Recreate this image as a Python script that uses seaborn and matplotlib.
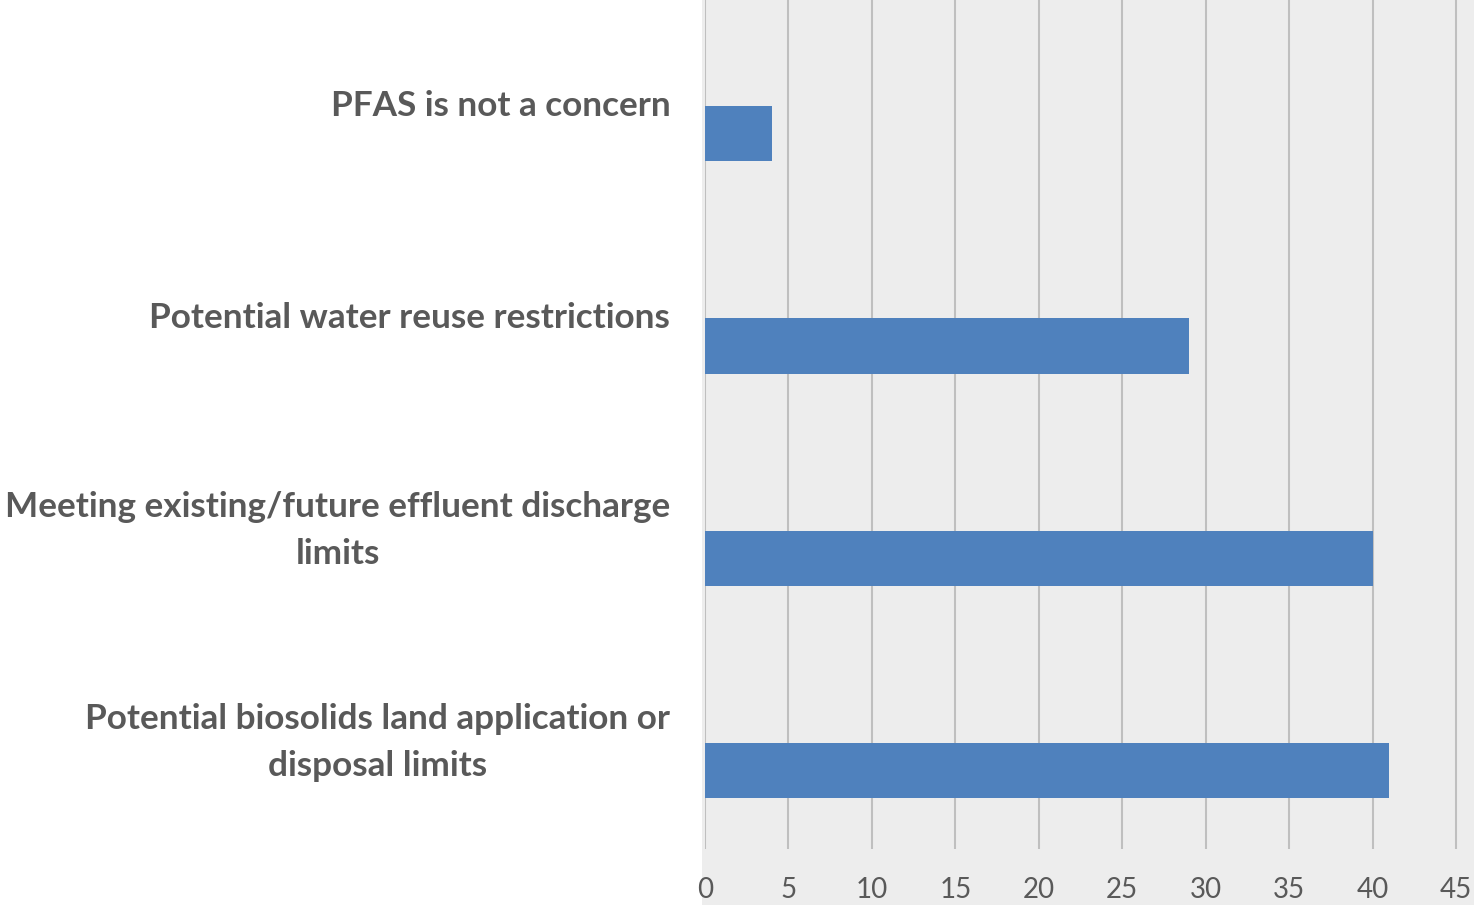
import matplotlib
matplotlib.use("Agg")
import matplotlib.pyplot as plt
import matplotlib.transforms as mtransforms
import seaborn as sns
import pandas as pd
from matplotlib.patches import Rectangle

categories = [
    "PFAS is not a concern",
    "Potential water reuse restrictions",
    "Meeting existing/future effluent discharge\nlimits",
    "Potential biosolids land application or\ndisposal limits",
]
values = [4, 29, 40, 41]
empty_series = [0, 0, 0, 0]
x_ticks = [0, 5, 10, 15, 20, 25, 30, 35, 40, 45]

bar_color = "#4F81BD"
bg = "#EDEDED"
text_color = "#595959"

df = pd.DataFrame({
    "category": categories * 2,
    "value": empty_series + values,
    "series": ["Series 1"] * len(categories) + ["Series 2"] * len(categories),
})

sns.set_theme(style="white")
plt.rcParams["font.family"] = ["Lato", "DejaVu Sans"]

W, H = 1474, 905
fig = plt.figure(figsize=(W / 100, H / 100), dpi=100)
fig.patch.set_facecolor("white")
fig.patches.append(Rectangle((702 / W, 0), 1 - 702 / W, 1, transform=fig.transFigure,
                             facecolor=bg, edgecolor="none", zorder=-10))
ax = fig.add_axes([705 / W, (H - 849) / H, 1 - 705 / W, 849 / H])
ax.set_facecolor(bg)

sns.barplot(data=df, x="value", y="category", hue="series", order=categories,
            hue_order=["Series 1", "Series 2"], palette=[bar_color, bar_color],
            width=0.52, dodge=True, orient="h", ax=ax, legend=False, saturation=1,
            linewidth=0, zorder=3)

ax.set_xlim(0, 46.08)
ax.set_ylim(3.5, -0.5)
ax.set_xticks(x_ticks)
ax.set_xticklabels([str(t) for t in x_ticks])
ax.grid(axis="x", color="#BFBFBF", linewidth=1.5, zorder=0)
ax.grid(axis="y", visible=False)
ax.set_axisbelow(True)
for s in ax.spines.values():
    s.set_visible(False)
ax.set_xlabel("")
ax.set_ylabel("")
ax.tick_params(axis="x", length=0, pad=20, labelsize=20, labelcolor=text_color)
ax.tick_params(axis="y", length=0, pad=25, labelsize=25.3, labelcolor=text_color)
for lab in ax.get_yticklabels():
    lab.set_fontweight("bold")
    lab.set_multialignment("center")
    lab.set_linespacing(1.58)
    lab.set_verticalalignment("center")

fig.savefig("out.png", dpi=100, facecolor="white")
